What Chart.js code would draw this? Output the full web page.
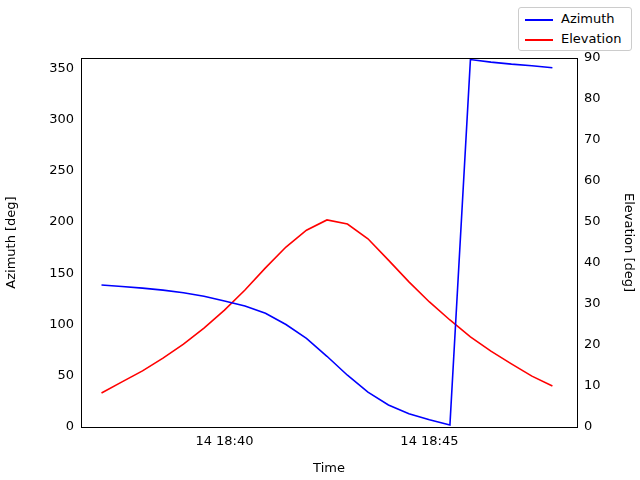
<!DOCTYPE html>
<html><head><meta charset="utf-8">
<script src="https://cdn.jsdelivr.net/npm/chart.js@4/dist/chart.umd.min.js"></script>
<style>
html,body{margin:0;padding:0;background:#fff;}
#wrap{position:relative;width:640px;height:480px;}
#leg{position:absolute;left:518px;top:7px;width:114px;height:44px;border:1px solid #ccc;border-radius:3px;background:#fff;font:13px "DejaVu Sans";color:#000;box-sizing:border-box;}
.it{position:absolute;left:6px;}
.ln{display:inline-block;width:28px;height:0;border-top:2px solid;vertical-align:middle;margin-right:8px;}
</style></head><body>
<div id="wrap"><canvas id="c" width="640" height="480"></canvas>
<div id="leg"><div class="it" style="top:3px"><span class="ln" style="border-color:#0000ff"></span>Azimuth</div>
<div class="it" style="top:23px"><span class="ln" style="border-color:#ff0000"></span>Elevation</div></div></div>
<script>
const times = [37,37.5,38,38.5,39,39.5,40,40.5,41,41.5,42,42.5,43,43.5,44,44.5,45,45.5,46,46.5,47,47.5,48];
const azimuth = [138.5,137,135.5,133.5,131,127.5,123,118,111,100,86.5,69,50.5,34,21.5,13,7,2,358.5,356,354,352.5,350.5];
const elevation = [8.3,11,13.7,16.8,20.2,24.1,28.5,33.4,38.8,43.9,48,50.5,49.5,45.9,40.7,35.4,30.5,26.1,22,18.5,15.4,12.4,10];
const xTicks = [40,45];
const font = {family:'DejaVu Sans', size:13};
new Chart(document.getElementById('c'), {
  type:'line',
  data:{datasets:[
    {label:'Azimuth', data:times.map((t,i)=>({x:t,y:azimuth[i]})), borderColor:'#0000ff', borderWidth:1.6, pointRadius:0, yAxisID:'y', tension:0},
    {label:'Elevation', data:times.map((t,i)=>({x:t,y:elevation[i]})), borderColor:'#ff0000', borderWidth:1.6, pointRadius:0, yAxisID:'y2', tension:0}
  ]},
  options:{
    responsive:false, animation:false,
    layout:{padding:{top:58,left:0,right:0,bottom:0}},
    plugins:{legend:{display:false}, tooltip:{enabled:false}},
    scales:{
      x:{type:'linear', min:36.5, max:48.6,
        afterBuildTicks:s=>{s.ticks=xTicks.map(v=>({value:v}));},
        afterFit:s=>{s.height=53;},
        ticks:{color:'#000', font, callback:v=>'14 18:'+v, maxRotation:0},
        grid:{display:false, drawTicks:true, tickLength:4, tickColor:'#000'},
        border:{color:'#000'},
        title:{display:true,text:'Time',color:'#000',font,padding:{top:2}}},
      y:{position:'left', min:0, max:360,
        afterBuildTicks:s=>{s.ticks=[0,50,100,150,200,250,300,350].map(v=>({value:v}));},
        afterFit:s=>{s.width=81;},
        ticks:{color:'#000', font},
        grid:{display:false, tickLength:4, tickColor:'#000'},
        border:{color:'#000'},
        title:{display:true,text:'Azimuth [deg]',color:'#000',font}},
      y2:{position:'right', min:0, max:90,
        afterBuildTicks:s=>{s.ticks=[0,10,20,30,40,50,60,70,80,90].map(v=>({value:v}));},
        afterFit:s=>{s.width=63;},
        ticks:{color:'#000', font},
        grid:{display:false, tickLength:4, tickColor:'#000'},
        border:{color:'#000'},
        title:{display:true,text:'Elevation [deg]',color:'#000',font}}
    }
  },
  plugins:[{id:'frame',afterDraw(c){const a=c.chartArea,x=c.ctx;x.save();x.strokeStyle='#000';x.lineWidth=1;x.strokeRect(a.left+0.5,a.top+0.5,a.right-a.left,a.bottom-a.top);x.restore();}}]
});
</script></body></html>
